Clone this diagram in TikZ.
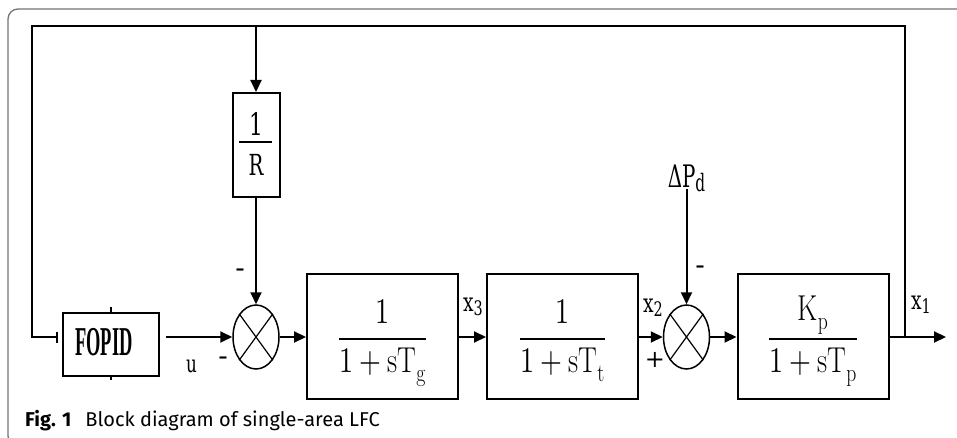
\documentclass[tikz,border=0pt]{standalone}
\usepackage{fontspec}
\usepackage{unicode-math}
\setmathfont{Latin Modern Math}
\usepackage{graphicx}
\usetikzlibrary{arrows.meta,calc,shapes.geometric}
\newfontfamily\labfont{DejaVu Serif}
\newfontfamily\fopidfont{Liberation Serif}
\newfontfamily\capfont{Fira Sans}
\newcommand{\nar}[2]{\scalebox{#1}[1]{#2}}
\newcommand{\labsub}[2]{{\fontsize{#1}{#1}\selectfont\raisebox{-4pt}{#2}}}
\begin{document}
\begin{tikzpicture}[x=1pt,y=-1pt,
  wire/.style={line width=2pt},
  arr/.style={wire,-{Triangle[length=12pt,width=11pt]}},
  blk/.style={draw,line width=2pt,inner sep=0pt,minimum width=151pt,minimum height=125pt},
  sumnode/.style={draw,ellipse,line width=1.5pt,inner sep=0pt,minimum width=46pt,minimum height=64pt},
  frac/.style={anchor=base,inner sep=0pt},
  lab/.style={inner sep=0pt,font=\labfont}
]
\useasboundingbox (0,0) rectangle (957,438);
\begin{scope}
  \clip (0,0) rectangle (957,438);
  \draw[black!55,line width=1.3pt,rounded corners=10pt] (8,9) rectangle (990,446);
\end{scope}

% blocks
\node[blk,minimum width=96pt,minimum height=63pt] (fopid) at (111,344.5) {};
\node[anchor=base,inner sep=0pt] (fopidt) at (104,355) {\fopidfont\bfseries\fontsize{41}{41}\selectfont\nar{0.45}{FOPID}};
\draw[wire] (fopid.north) -- ++(0,-5);
\draw[wire] (fopid.south) -- ++(0,3);

\node[draw,line width=2pt,inner sep=0pt,minimum width=47pt,minimum height=104pt] (rbox) at (256,145) {};
\node[lab] (r1) at (256,123.5) {\fontsize{31}{31}\selectfont\nar{0.7}{1}};
\draw[wire] (239,142) -- (272,142);
\node[lab] (rR) at (256,164.5) {\fontsize{29}{29}\selectfont\nar{0.68}{R}};

\node[sumnode] (s1) at (256,337) {};
\draw[line width=1.2pt] (s1.north west) -- (s1.south east) (s1.north east) -- (s1.south west);

\node[blk] (g1) at (382.5,336.5) {};
\node[frac] (g1t) at (382.5,348) {\fontsize{36}{40}\selectfont\nar{0.78}{$\displaystyle\frac{1}{1+\mathrm{sT_g}}$}};

\node[blk] (g2) at (562.5,336.5) {};
\node[frac] (g2t) at (562.5,348) {\fontsize{36}{40}\selectfont\nar{0.78}{$\displaystyle\frac{1}{1+\mathrm{sT_t}}$}};

\node[sumnode] (s2) at (686.5,337) {};
\draw[line width=1.2pt] (s2.north west) -- (s2.south east) (s2.north east) -- (s2.south west);

\node[blk] (g3) at (813,336.5) {};
\node[frac] (g3t) at (813,348) {\fontsize{36}{40}\selectfont\nar{0.78}{$\displaystyle\frac{\mathrm{K_p}}{1+\mathrm{sT_p}}$}};

\node[lab,anchor=south] (dp) at (686.5,192) {\nar{0.64}{\fontsize{31}{31}\selectfont ΔP\labsub{24}{d}}};

% coordinates
\coordinate (tl) at (32,26);
\coordinate (tr) at (905,26);
\coordinate (br) at (905,337);
\coordinate (out) at (946,337);
\coordinate (fb) at ($(fopid.west |- s1)+(-4,0)$);
\coordinate (fo) at ($(fopid.east |- s1)+(6,0)$);

% connectors
\draw[arr] (fo) -- (s1.west);
\draw[arr] (s1.east) -- (g1.west |- s1.east);
\draw[arr] (g1.east |- s1) -- (g2.west |- s1);
\draw[arr] (g2.east |- s2) -- (s2.west);
\draw[arr] (s2.east) -- (g3.west |- s2);
\draw[arr] (g3.east |- s2) -- (out);
\draw[wire,-{Bar[width=11pt]}] (br) -- (tr) -- (tl) -- (tl |- s1) -- (fb);
\draw[arr] (rbox.north |- tl) -- (rbox.north);
\draw[arr] (rbox.south) -- (s1.north);
\draw[arr] ([yshift=3pt]dp.south) -- (s2.north);

% labels
\node[lab] (lu) at (191.5,366) {\fontsize{24}{24}\selectfont\nar{0.7}{u}};
\node[lab] (m1) at (223,361) {\fontsize{28}{28}\selectfont -};
\node[lab] (m2) at (240,273) {\fontsize{28}{28}\selectfont -};
\node[lab] (m3) at (700,270) {\fontsize{28}{28}\selectfont -};
\node[lab] (pl) at (655,360) {\fontsize{24}{24}\selectfont +};
\node[lab] (x3) at (473,307) {\nar{0.72}{\fontsize{26}{26}\selectfont x\labsub{20}{3}}};
\node[lab] (x2) at (653,308) {\nar{0.72}{\fontsize{26}{26}\selectfont x\labsub{20}{2}}};
\node[lab] (x1) at (921,305) {\nar{0.72}{\fontsize{26}{26}\selectfont x\labsub{20}{1}}};

% caption
\node[anchor=base west,inner sep=0pt] (cap) at (25,426) {\capfont\fontsize{20}{20}\selectfont\textbf{Fig. 1}\hspace{14pt}Block diagram of single-area LFC};
\end{tikzpicture}
\end{document}
